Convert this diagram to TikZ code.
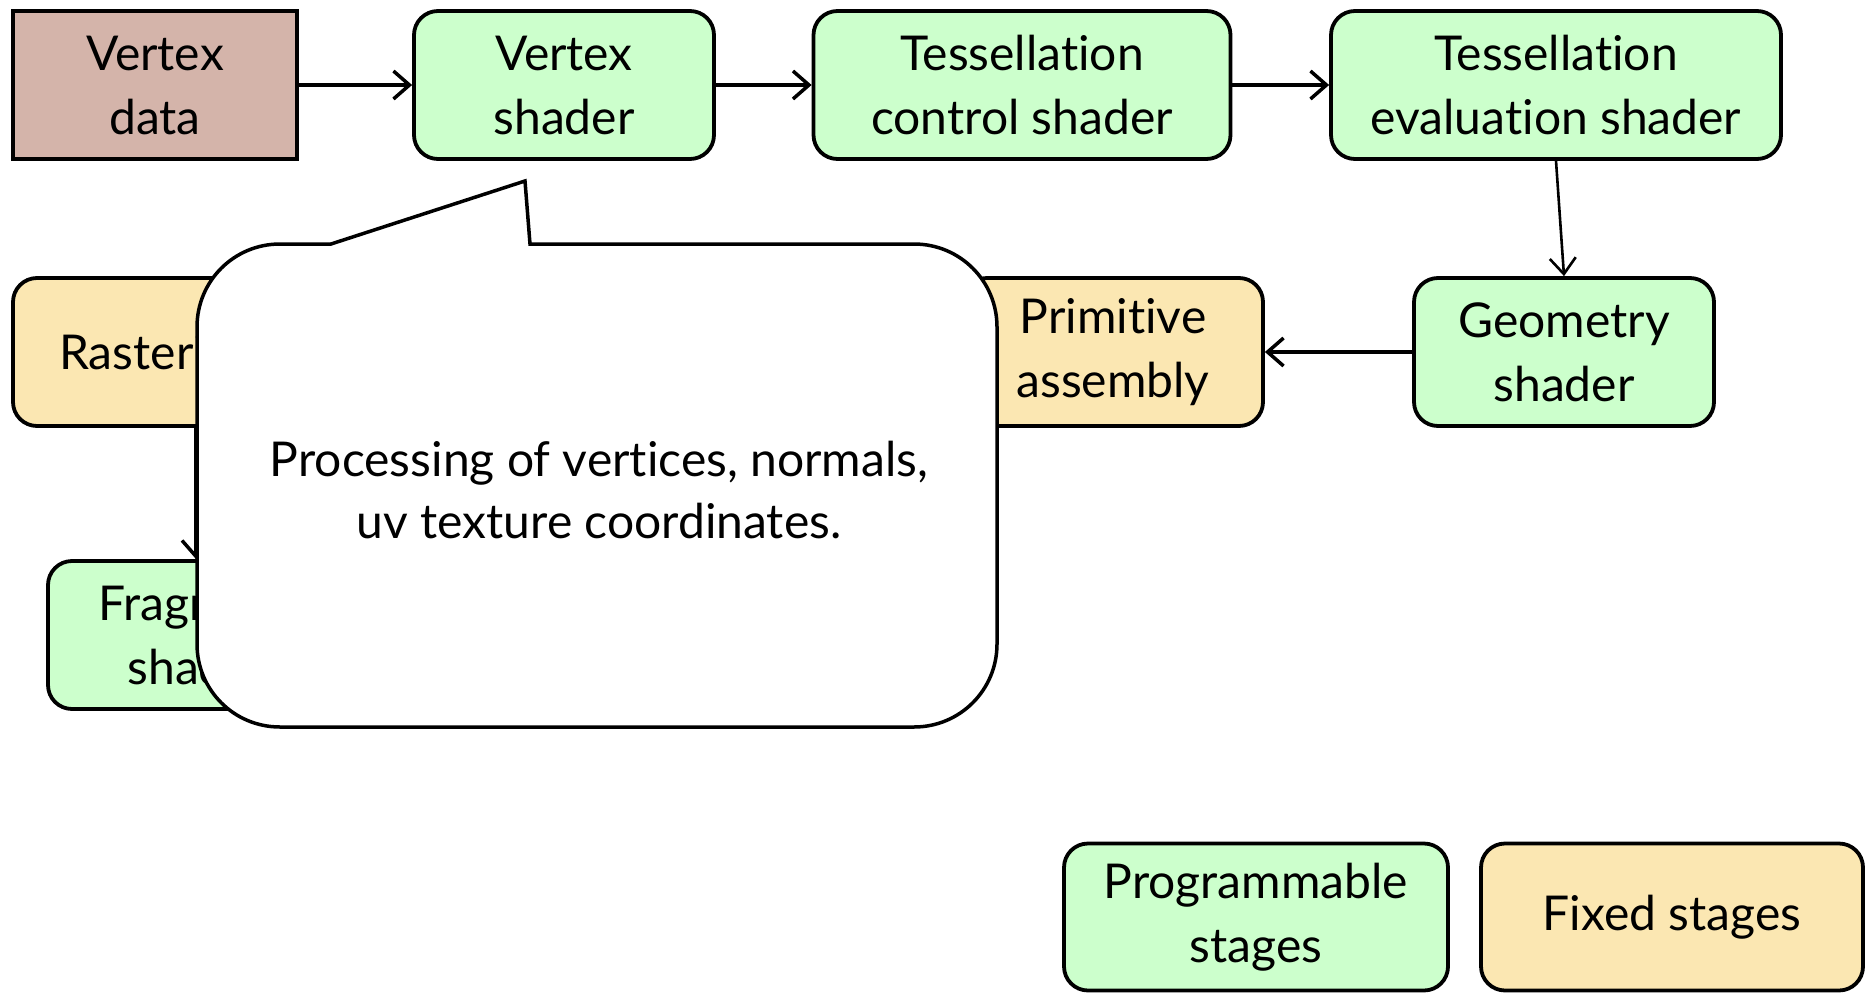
\documentclass[tikz,border=0pt]{standalone}
\usepackage{fontspec}
\setmainfont{Lato}[Ligatures={NoCommon}]
\usetikzlibrary{arrows.meta}
\definecolor{prog}{RGB}{204,255,204}
\definecolor{fixd}{RGB}{251,231,178}
\definecolor{vdat}{RGB}{212,180,170}
\begin{document}
\begin{tikzpicture}[x=1pt,y=-1pt,
 stage/.style={draw=black, line width=3.8pt, rounded corners=24pt, align=center, inner sep=0pt, minimum height=148pt, font=\fontsize{48}{64}\selectfont},
 progbox/.style={stage, fill=prog},
 fixbox/.style={stage, fill=fixd},
 flow/.style={-{Straight Barb[length=16pt,width=28pt]}, line width=3.5pt},
 thinflow/.style={-{Straight Barb[length=16pt,width=26pt]}, line width=2.6pt},
 calloutline/.style={draw=black, line width=3.5pt, fill=white},
]
\useasboundingbox (0,0) rectangle (1865,993);
\node[stage, fill=vdat, rounded corners=0pt, minimum width=284pt] (vd) at (155,85) {Vertex\\data};
\node[progbox, minimum width=300pt] (vs) at (564,85) {Vertex\\shader};
\node[progbox, minimum width=417pt] (tcs) at (1022,85) {Tessellation\\control shader};
\node[progbox, minimum width=450pt] (tes) at (1556,85) {Tessellation\\evaluation shader};
\node[progbox, minimum width=300pt] (gs) at (1564,352) {Geometry\\shader};
\node[fixbox, minimum width=300pt] (pa) at (1113,352) {Primitive\\assembly};
\node[fixbox, minimum width=366pt] (ra) at (196,352) {Rasterization};
\node[progbox, minimum width=300pt] (fs) at (198,635) {Fragment\\shader};
\node[progbox, minimum width=384pt, minimum height=147pt] (ps) at (1256,917) {Programmable\\stages};
\node[fixbox, minimum width=382pt, minimum height=147pt] (fx) at (1672,917) {Fixed stages};
\draw[flow] (vd) -- (vs);
\draw[flow] (vs) -- (tcs);
\draw[flow] (tcs) -- (tes);
\draw[thinflow] (tes.south) -- (gs.north);
\draw[flow] (gs) -- (pa);
\draw[flow] (pa) -- (ra);
\draw[flow] (ra.south) -- (ra.south |- fs.north);
\draw[calloutline] (331,244) -- (525,181) -- (530,244) -- (914,244)
  .. controls (960,244) and (997,281) .. (997,327) -- (997,644)
  .. controls (997,690) and (960,727) .. (914,727) -- (280,727)
  .. controls (234,727) and (197,690) .. (197,644) -- (197,327)
  .. controls (197,281) and (234,244) .. (280,244) -- cycle;
\node[align=center, inner sep=0pt, font=\fontsize{48}{62}\selectfont] (note) at (599,490) {Processing of vertices, normals,\\uv texture coordinates.};
\end{tikzpicture}
\end{document}
